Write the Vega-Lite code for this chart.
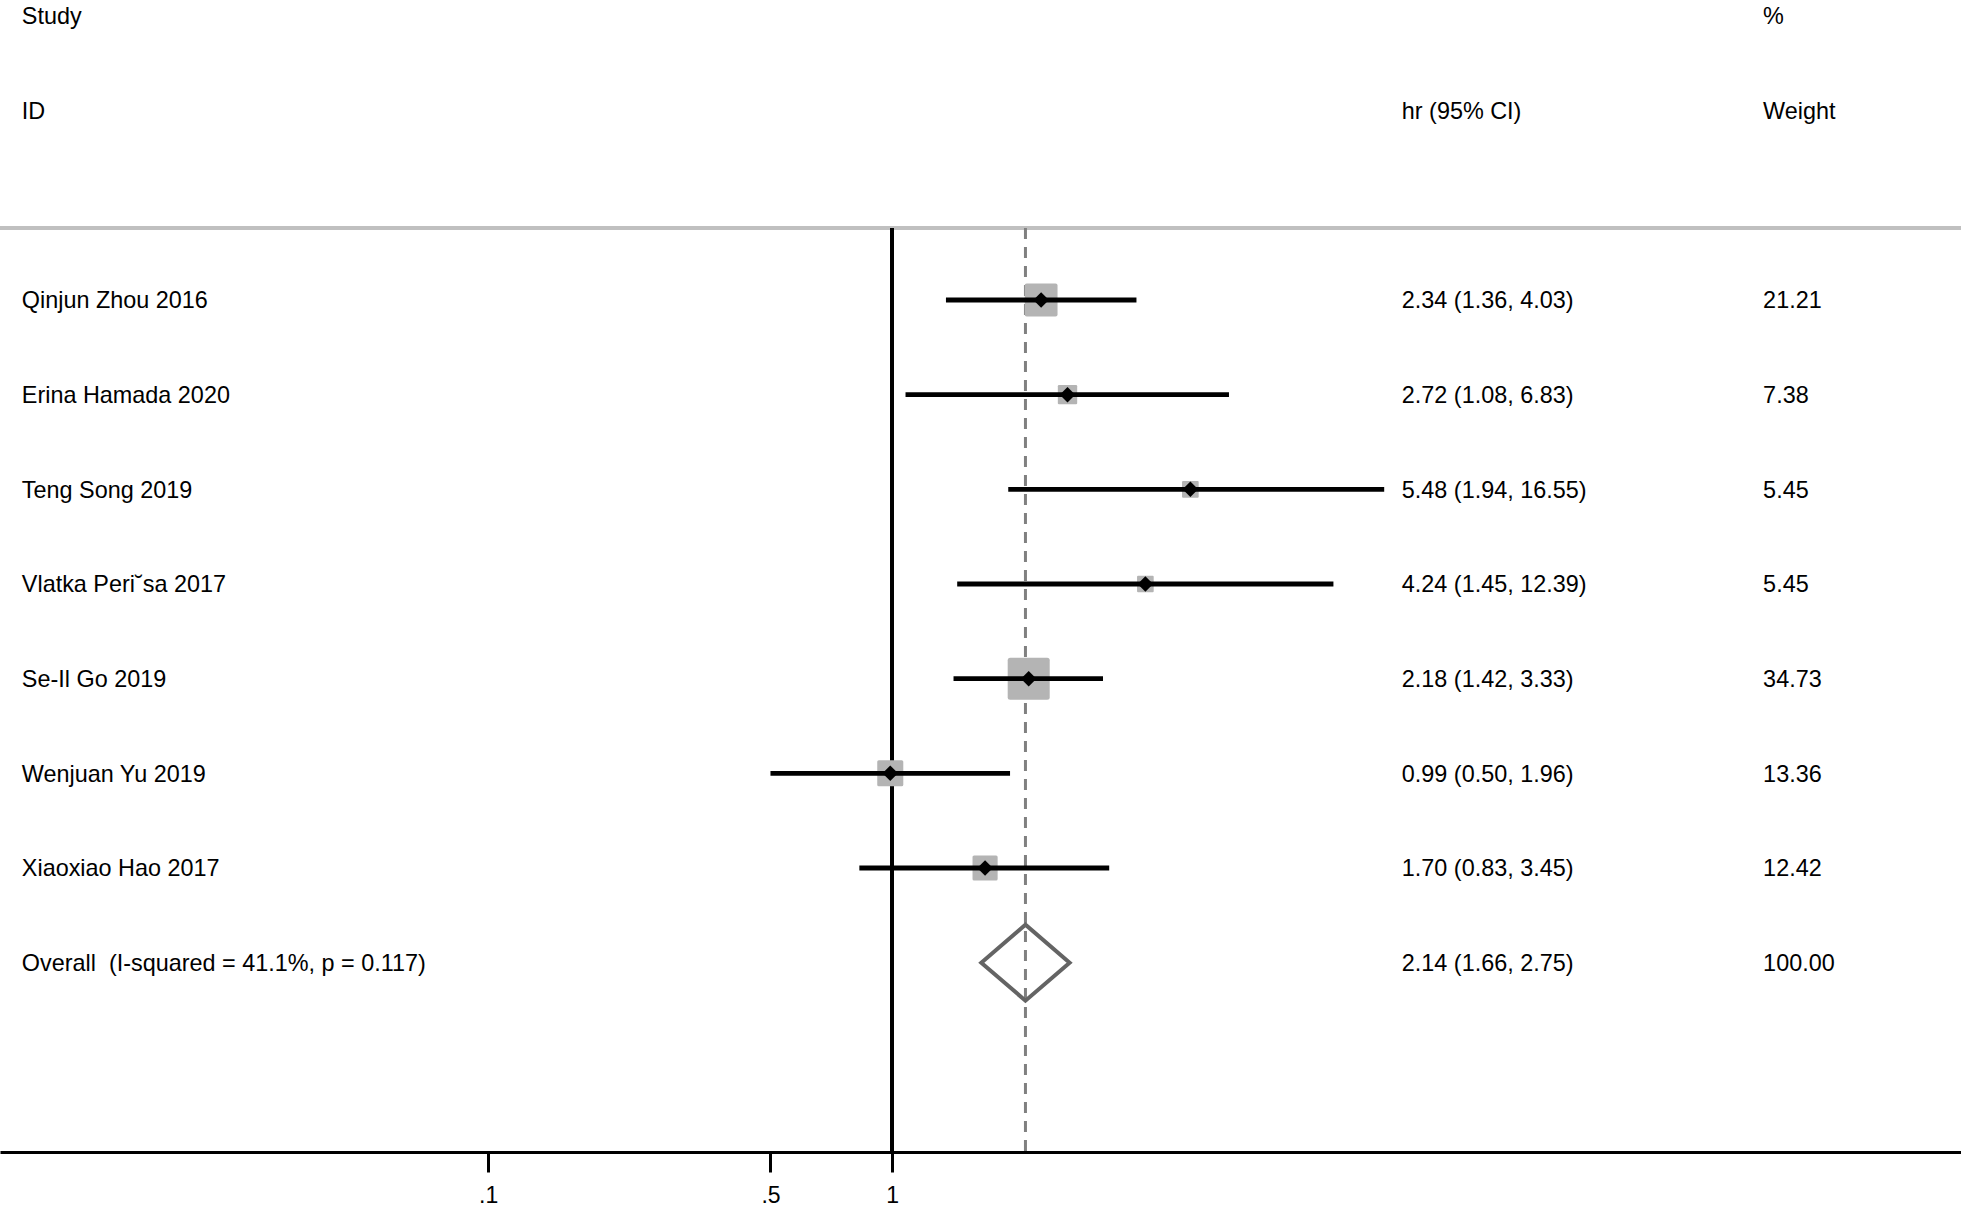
{
  "$schema": "https://vega.github.io/schema/vega-lite/v6.json",
  "width": 1961,
  "height": 1152,
  "autosize": {"type": "none"},
  "padding": {"left": 0, "top": 0, "right": 0, "bottom": 60},
  "background": "white",
  "config": {
    "view": {"stroke": null},
    "text": {"font": "Liberation Sans", "fontSize": 23.4, "color": "black", "dy": 1.5},
    "axis": {"labelFont": "Liberation Sans"}
  },
  "datasets": {
    "studies": [
      {"study": "Qinjun Zhou 2016", "type": "study", "row": 3, "hr": 2.34, "lcl": 1.36, "ucl": 4.03, "weight": 21.21, "ci": "2.34 (1.36, 4.03)"},
      {"study": "Erina Hamada 2020", "type": "study", "row": 4, "hr": 2.72, "lcl": 1.08, "ucl": 6.83, "weight": 7.38, "ci": "2.72 (1.08, 6.83)"},
      {"study": "Teng Song 2019", "type": "study", "row": 5, "hr": 5.48, "lcl": 1.94, "ucl": 16.55, "weight": 5.45, "ci": "5.48 (1.94, 16.55)"},
      {"study": "Vlatka Peri˘sa 2017", "type": "study", "row": 6, "hr": 4.24, "lcl": 1.45, "ucl": 12.39, "weight": 5.45, "ci": "4.24 (1.45, 12.39)"},
      {"study": "Se-Il Go 2019", "type": "study", "row": 7, "hr": 2.18, "lcl": 1.42, "ucl": 3.33, "weight": 34.73, "ci": "2.18 (1.42, 3.33)"},
      {"study": "Wenjuan Yu 2019", "type": "study", "row": 8, "hr": 0.99, "lcl": 0.5, "ucl": 1.96, "weight": 13.36, "ci": "0.99 (0.50, 1.96)"},
      {"study": "Xiaoxiao Hao 2017", "type": "study", "row": 9, "hr": 1.7, "lcl": 0.83, "ucl": 3.45, "weight": 12.42, "ci": "1.70 (0.83, 3.45)"},
      {"study": "Overall\u00a0 (I-squared = 41.1%, p = 0.117)", "type": "overall", "row": 10, "hr": 2.14, "lcl": 1.66, "ucl": 2.75, "weight": 100.0, "ci": "2.14 (1.66, 2.75)"}
    ],
    "headers": [
      {"row": 0, "c1": "Study", "c2": "", "c3": "%"},
      {"row": 1, "c1": "ID", "c2": "hr (95% CI)", "c3": "Weight"}
    ]
  },
  "data": {"name": "studies"},
  "encoding": {
    "y": {
      "field": "row",
      "type": "quantitative",
      "scale": {"domain": [-0.169, 12.0], "reverse": true, "nice": false, "zero": false},
      "axis": null
    }
  },
  "layer": [
    {
      "mark": {"type": "rule", "color": "#c0c0c0", "strokeWidth": 3},
      "encoding": {"y": {"datum": 2.24, "type": "quantitative"}}
    },
    {
      "mark": {"type": "rule", "color": "black", "strokeWidth": 3},
      "encoding": {
        "x": {"datum": 1, "type": "quantitative"},
        "y": {"datum": 2.24, "type": "quantitative"},
        "y2": {"datum": 12.0}
      }
    },
    {
      "transform": [{"filter": "datum.type == 'overall'"}],
      "mark": {"type": "rule", "color": "#808080", "strokeWidth": 3, "strokeDash": [11, 8]},
      "encoding": {
        "x": {"field": "hr", "type": "quantitative"},
        "y": {"datum": 2.24, "type": "quantitative"},
        "y2": {"datum": 12.0}
      }
    },
    {
      "transform": [{"filter": "datum.type == 'study'"}],
      "mark": {"type": "point", "shape": "M-0.88,-1L0.88,-1Q1,-1 1,-0.88L1,0.88Q1,1 0.88,1L-0.88,1Q-1,1 -1,0.88L-1,-0.88Q-1,-1 -0.88,-1Z", "filled": true, "color": "#b4b4b4", "opacity": 1},
      "encoding": {
        "x": {
          "field": "hr",
          "type": "quantitative",
          "scale": {"type": "log", "domain": [0.00618, 443.8], "nice": false, "zero": false},
          "axis": {
            "orient": "bottom",
            "title": null,
            "values": [0.1, 0.5, 1],
            "labelExpr": "datum.value == 1 ? '1' : (datum.value < 0.2 ? '.1' : '.5')",
            "grid": false,
            "domainColor": "black",
            "domainWidth": 3,
            "tickColor": "black",
            "tickWidth": 3,
            "tickSize": 20,
            "labelFontSize": 23,
            "labelColor": "black",
            "labelPadding": 12,
            "labelFont": "Liberation Sans"
          }
        },
        "size": {
          "field": "weight",
          "type": "quantitative",
          "scale": {"type": "linear", "domain": [0, 35], "range": [0, 1778], "zero": true},
          "legend": null
        }
      }
    },
    {
      "transform": [{"filter": "datum.type == 'study'"}],
      "mark": {"type": "rule", "color": "black", "strokeWidth": 4.8},
      "encoding": {
        "x": {"field": "lcl", "type": "quantitative"},
        "x2": {"field": "ucl"}
      }
    },
    {
      "transform": [{"filter": "datum.type == 'study'"}],
      "mark": {"type": "point", "shape": "diamond", "filled": true, "color": "black", "size": 240, "opacity": 1},
      "encoding": {"x": {"field": "hr", "type": "quantitative"}}
    },
    {
      "transform": [{"filter": "datum.type == 'overall'"}],
      "mark": {"type": "point", "shape": "M-1,0L0,-0.86L1,0L0,0.86Z", "filled": false, "stroke": "#646464", "strokeWidth": 4, "size": 7800, "opacity": 1},
      "encoding": {"x": {"field": "hr", "type": "quantitative"}}
    },
    {
      "mark": {"type": "text", "align": "left", "baseline": "middle"},
      "encoding": {
        "x": {"datum": 0.007, "type": "quantitative"},
        "text": {"field": "study"}
      }
    },
    {
      "mark": {"type": "text", "align": "left", "baseline": "middle"},
      "encoding": {
        "x": {"datum": 18.3, "type": "quantitative"},
        "text": {"field": "ci"}
      }
    },
    {
      "mark": {"type": "text", "align": "left", "baseline": "middle"},
      "encoding": {
        "x": {"datum": 143.6, "type": "quantitative"},
        "text": {"field": "weight", "type": "quantitative", "format": ".2f"}
      }
    },
    {
      "data": {"name": "headers"},
      "mark": {"type": "text", "align": "left", "baseline": "middle"},
      "encoding": {
        "x": {"datum": 0.007, "type": "quantitative"},
        "text": {"field": "c1"}
      }
    },
    {
      "data": {"name": "headers"},
      "mark": {"type": "text", "align": "left", "baseline": "middle"},
      "encoding": {
        "x": {"datum": 18.3, "type": "quantitative"},
        "text": {"field": "c2"}
      }
    },
    {
      "data": {"name": "headers"},
      "mark": {"type": "text", "align": "left", "baseline": "middle"},
      "encoding": {
        "x": {"datum": 143.6, "type": "quantitative"},
        "text": {"field": "c3"}
      }
    }
  ]
}
